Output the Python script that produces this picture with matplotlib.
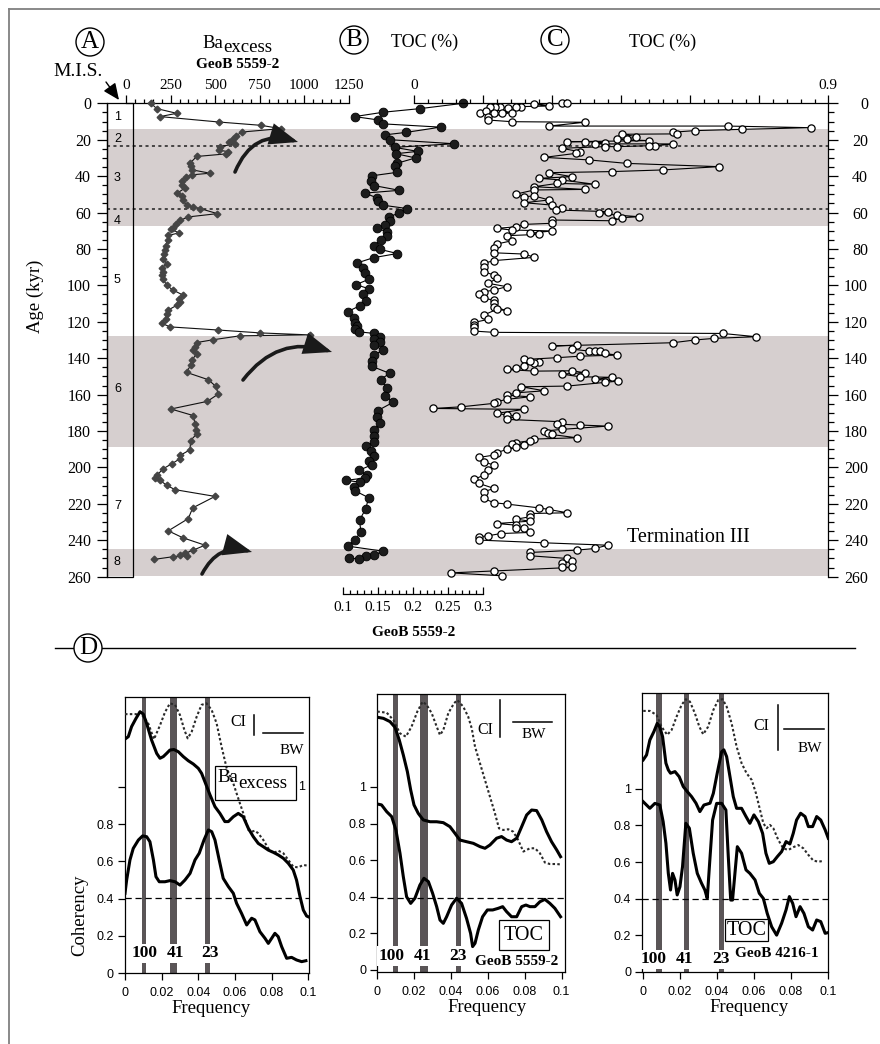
import numpy as np
import matplotlib
matplotlib.use("Agg")
import matplotlib.pyplot as plt
from matplotlib.ticker import MultipleLocator, FuncFormatter
from matplotlib.patches import Rectangle, FancyArrowPatch
from matplotlib.lines import Line2D

plt.rcParams['font.family'] = ['Liberation Serif', 'DejaVu Serif']
plt.rcParams['axes.linewidth'] = 0.9
SANS = 'Liberation Sans'

# ---------------- down-core records (age in kyr) ----------------
ba_age = [0, 2.9, 5.5, 7.3, 10.3, 12.1, 13.9, 15.8, 18.0, 19.5,
          21.0, 22.3, 23.8, 25.8, 26.5, 27.8, 29.2, 32.9, 34.7, 36.5,
          38.4, 39.3, 40.5, 42.9, 44.9, 46.5, 49.3, 51.1, 53.3, 56.0,
          56.9, 57.8, 60.6, 62.4, 64.3, 66.1, 68.5, 68.8, 71.2, 72.6,
          75.2, 78.1, 80.6, 83.0, 85.4, 88.1, 90.3, 92.7, 94.5, 96.7,
          99.9, 102.5, 105.4, 107.7, 109.1, 111.0, 113.5, 115.9, 118.2, 120.8,
          122.8, 124.5, 126.1, 127.2, 127.7, 129.9, 131.4, 133.8, 135.6, 137.8,
          141.0, 143.8, 147.8, 151.8, 155.5, 159.7, 163.7, 167.9, 171.5, 176.1,
          179.7, 181.6, 185.2, 190.3, 193.4, 195.2, 198.0, 200.7, 204.4, 205.6,
          207.1, 209.8, 212.2, 215.9, 222.2, 228.1, 234.8, 238.6, 242.7, 245.4,
          247.2, 248.2, 248.5, 249.0, 250.5]
ba_excess = [140, 172, 284, 191, 523, 757, 867, 648, 616, 598,
             575, 609, 527, 523, 570, 560, 396, 359, 362, 368,
             471, 368, 336, 312, 312, 331, 288, 312, 318, 340,
             377, 415, 512, 349, 303, 280, 265, 250, 295, 237,
             233, 222, 218, 215, 209, 228, 204, 206, 200, 209,
             228, 262, 321, 297, 303, 284, 237, 228, 222, 200,
             247, 514, 751, 1031, 639, 486, 396, 387, 377, 396,
             368, 362, 340, 461, 504, 517, 456, 252, 377, 387,
             392, 396, 362, 359, 303, 303, 256, 209, 172, 163,
             191, 228, 275, 499, 374, 349, 237, 318, 443, 377,
             331, 303, 340, 265, 157]

toc_b_age = [0, 2.9, 4.9, 7.3, 9.1, 11.3, 13.1, 16.0, 17.3, 20.0,
             22.2, 24.2, 26.4, 27.7, 30.0, 32.9, 34.7, 37.9, 39.8, 42.4,
             45.2, 47.8, 49.3, 52.0, 53.8, 56.0, 57.8, 60.2, 62.4, 64.5,
             66.6, 68.6, 70.6, 73.0, 75.2, 78.4, 80.2, 82.5, 84.8, 87.6,
             90.3, 93.0, 96.7, 99.6, 101.8, 104.9, 108.6, 111.3, 114.4, 117.7,
             120.4, 122.3, 124.1, 125.5, 126.4, 128.1, 129.5, 131.0, 132.8, 135.6,
             138.3, 141.4, 144.5, 148.3, 151.8, 156.2, 160.6, 164.2, 168.8, 172.1,
             175.7, 179.4, 182.5, 185.8, 188.3, 191.2, 193.8, 196.7, 198.5, 201.6,
             204.0, 205.8, 207.1, 208.0, 210.7, 212.9, 216.6, 222.6, 229.0, 235.4,
             240.0, 243.2, 246.0, 248.2, 248.7, 250.4, 249.6]
toc_b = [0.272, 0.211, 0.158, 0.117, 0.150, 0.158, 0.240, 0.190, 0.161, 0.168,
         0.259, 0.174, 0.207, 0.176, 0.204, 0.178, 0.174, 0.178, 0.142, 0.140,
         0.145, 0.181, 0.132, 0.149, 0.150, 0.158, 0.192, 0.181, 0.166, 0.168,
         0.160, 0.149, 0.163, 0.163, 0.154, 0.144, 0.153, 0.178, 0.144, 0.121,
         0.129, 0.132, 0.137, 0.119, 0.137, 0.129, 0.133, 0.124, 0.107, 0.116,
         0.118, 0.121, 0.118, 0.123, 0.145, 0.153, 0.145, 0.153, 0.144, 0.158,
         0.144, 0.142, 0.142, 0.167, 0.154, 0.163, 0.161, 0.172, 0.150, 0.149,
         0.153, 0.145, 0.144, 0.145, 0.133, 0.140, 0.144, 0.137, 0.142, 0.123,
         0.134, 0.132, 0.104, 0.124, 0.116, 0.118, 0.137, 0.133, 0.124, 0.126,
         0.117, 0.107, 0.158, 0.144, 0.133, 0.123, 0.109]

toc_c_age = [0.0, 0.0, 0.5, 1.5, 1.8, 2.2, 2.7, 1.8, 2.2, 1.8,
             5.1, 4.0, 5.5, 5.1, 5.1, 7.3, 9.2, 10.1, 10.4, 12.5,
             12.5, 13.4, 14.3, 15.0, 15.9, 16.8, 17.0, 18.3, 19.8, 19.8,
             20.5, 21.1, 21.1, 21.6, 22.3, 22.3, 23.4, 23.3, 23.8, 23.8,
             24.7, 26.6, 27.5, 29.7, 31.1, 33.0, 34.8, 36.6, 37.5, 38.1,
             40.3, 41.2, 42.1, 44.5, 44.0, 45.8, 47.3, 47.6, 49.8, 51.3,
             50.9, 53.1, 54.6, 55.9, 57.7, 58.6, 59.5, 60.4, 61.4, 62.3,
             62.8, 64.5, 64.1, 65.9, 66.5, 67.8, 68.7, 69.6, 70.1, 71.4,
             72.0, 72.7, 75.5, 77.3, 79.7, 82.1, 82.8, 84.6, 86.4, 87.9,
             90.1, 92.5, 94.3, 96.2, 98.9, 100.7, 102.6, 103.5, 104.9, 107.1,
             108.1, 109.9, 111.7, 113.9, 113.2, 116.3, 118.7, 120.3, 121.8, 122.7,
             125.1, 125.8, 126.4, 128.2, 129.1, 130.0, 131.5, 133.3, 132.8, 135.0,
             136.1, 136.1, 135.9, 137.4, 138.3, 138.9, 139.7, 140.7, 141.9, 142.5,
             141.6, 144.3, 145.6, 146.2, 147.1, 146.9, 148.0, 148.7, 150.2, 150.5,
             151.6, 152.6, 153.3, 155.3, 155.7, 157.9, 159.0, 160.3, 161.2, 162.6,
             163.9, 164.8, 166.7, 167.6, 168.1, 170.3, 171.2, 171.8, 173.6, 174.9,
             176.2, 176.7, 177.3, 179.1, 180.0, 180.9, 181.9, 183.7, 184.4, 185.3,
             186.4, 187.2, 187.7, 189.0, 190.1, 191.9, 193.2, 194.5, 196.9, 198.7,
             201.5, 204.2, 206.6, 208.8, 211.5, 213.4, 217.0, 219.4, 220.1, 222.2,
             223.1, 224.9, 225.3, 227.1, 228.4, 229.5, 230.8, 231.7, 233.0, 233.5,
             235.7, 236.3, 237.5, 238.1, 239.9, 241.4, 242.7, 244.5, 245.4, 246.7,
             248.5, 250.0, 251.5, 252.7, 254.6, 254.9, 256.8, 257.9, 259.5]
toc_c = [0.320, 0.333, 0.261, 0.293, 0.233, 0.222, 0.204, 0.186, 0.175, 0.164,
         0.143, 0.156, 0.173, 0.190, 0.212, 0.161, 0.161, 0.212, 0.371, 0.293,
         0.681, 0.862, 0.712, 0.610, 0.562, 0.570, 0.452, 0.483, 0.462, 0.441,
         0.510, 0.333, 0.371, 0.414, 0.393, 0.562, 0.523, 0.510, 0.441, 0.414,
         0.320, 0.360, 0.351, 0.283, 0.380, 0.462, 0.662, 0.540, 0.430, 0.293,
         0.342, 0.271, 0.320, 0.393, 0.311, 0.261, 0.371, 0.261, 0.222, 0.239,
         0.261, 0.293, 0.239, 0.299, 0.320, 0.309, 0.422, 0.402, 0.441, 0.489,
         0.452, 0.430, 0.299, 0.299, 0.239, 0.222, 0.179, 0.212, 0.299, 0.251,
         0.271, 0.201, 0.212, 0.179, 0.173, 0.173, 0.239, 0.261, 0.173, 0.151,
         0.151, 0.151, 0.173, 0.179, 0.161, 0.201, 0.173, 0.151, 0.141, 0.151,
         0.173, 0.173, 0.173, 0.201, 0.179, 0.151, 0.161, 0.130, 0.130, 0.130,
         0.130, 0.173, 0.670, 0.743, 0.652, 0.610, 0.562, 0.299, 0.353, 0.342,
         0.380, 0.393, 0.404, 0.414, 0.441, 0.360, 0.311, 0.239, 0.272, 0.261,
         0.251, 0.239, 0.222, 0.201, 0.261, 0.343, 0.371, 0.320, 0.360, 0.430,
         0.393, 0.442, 0.414, 0.333, 0.233, 0.283, 0.222, 0.201, 0.251, 0.201,
         0.179, 0.173, 0.102, 0.041, 0.239, 0.179, 0.201, 0.222, 0.201, 0.320,
         0.311, 0.360, 0.420, 0.320, 0.283, 0.291, 0.299, 0.353, 0.261, 0.251,
         0.222, 0.212, 0.239, 0.222, 0.201, 0.179, 0.173, 0.141, 0.151, 0.173,
         0.161, 0.151, 0.130, 0.141, 0.173, 0.151, 0.151, 0.173, 0.201, 0.271,
         0.293, 0.333, 0.251, 0.251, 0.222, 0.251, 0.179, 0.222, 0.222, 0.239,
         0.251, 0.188, 0.161, 0.141, 0.141, 0.283, 0.420, 0.393, 0.353, 0.251,
         0.251, 0.333, 0.343, 0.320, 0.320, 0.343, 0.173, 0.080, 0.190]

# glacial stages shaded, boundaries marked by dotted lines
glacial_top = [14.2, 128.0, 245.0]
glacial_bot = [67.5, 188.5, 259.5]
dotted_age = [23.5, 58.0]
mis_stage = ['1', '2', '3', '4', '5', '6', '7', '8']
mis_age = [7.3, 19.5, 41.0, 64.5, 97.0, 157.0, 221.0, 252.0]

# ---------------- cross-spectral results ----------------
p1_dot_f = [0, .0064, .0082, .0127, .0158, .0191, .0218, .0245, .0273, .0300,
            .0324, .0342, .0364, .0391, .0418, .0445, .0473, .0500, .0527, .0555,
            .0591, .0627, .0655, .0673, .0691, .0709, .0727, .0755, .0782, .0809,
            .0836, .0864, .0891, .0918, .0945, .0973, .1000]
p1_dot = [1.39, 1.39, 1.40, 1.34, 1.255, 1.33, 1.40, 1.448, 1.44, 1.385,
          1.305, 1.26, 1.296, 1.376, 1.44, 1.448, 1.412, 1.34, 1.215, 1.099,
          1.018, 0.911, 0.83, 0.768, 0.759, 0.764, 0.75, 0.714, 0.669, 0.643,
          0.657, 0.643, 0.607, 0.571, 0.567, 0.58, 0.576]
p1_up_f = [0, .0018, .0036, .0060, .0082, .0100, .0118, .0145, .0173, .0191,
           .0209, .0227, .0245, .0267, .0291, .0318, .0345, .0373, .0400, .0418,
           .0436, .0464, .0491, .0518, .0545, .0564, .0591, .0618, .0645, .0673,
           .0700, .0727, .0755, .0782, .0809, .0836, .0864, .0891, .0918, .0936,
           .0955, .0973, .0991, .1000]
p1_up = [1.256, 1.269, 1.323, 1.367, 1.403, 1.39, 1.34, 1.251, 1.179, 1.153,
         1.162, 1.179, 1.197, 1.2, 1.188, 1.162, 1.14, 1.122, 1.099, 1.072,
         1.027, 0.956, 0.893, 0.857, 0.813, 0.813, 0.839, 0.857, 0.839, 0.777,
         0.732, 0.696, 0.678, 0.66, 0.648, 0.634, 0.616, 0.589, 0.553, 0.499,
         0.41, 0.338, 0.306, 0.302]
p1_coh_f = [0, .0009, .0027, .0045, .0073, .0096, .0118, .0136, .0155, .0169,
            .0187, .0218, .0245, .0273, .0300, .0327, .0355, .0382, .0405, .0431,
            .0455, .0473, .0491, .0514, .0536, .0564, .0591, .0609, .0636, .0664,
            .0691, .0709, .0736, .0764, .0782, .0800, .0818, .0836, .0855, .0882,
            .0909, .0936, .0964, .0987]
p1_coh = [0.428, 0.499, 0.607, 0.669, 0.714, 0.736, 0.732, 0.705, 0.607, 0.517,
          0.49, 0.49, 0.496, 0.49, 0.472, 0.499, 0.535, 0.607, 0.643, 0.714,
          0.768, 0.759, 0.714, 0.607, 0.508, 0.464, 0.428, 0.374, 0.32, 0.258,
          0.294, 0.285, 0.222, 0.186, 0.159, 0.186, 0.213, 0.195, 0.141, 0.079,
          0.084, 0.07, 0.061, 0.066]

p2_dot_f = [0, .0051, .0087, .0123, .0155, .0186, .0217, .0246, .0268, .0295,
            .0322, .0340, .0358, .0385, .0416, .0434, .0466, .0493, .0512, .0530,
            .0557, .0584, .0611, .0638, .0660, .0683, .0710, .0737, .0764, .0792,
            .0828, .0855, .0882, .0909, .0936, .0973, .0991]
p2_dot = [1.412, 1.406, 1.366, 1.293, 1.275, 1.33, 1.412, 1.466, 1.448, 1.403,
          1.33, 1.284, 1.311, 1.403, 1.457, 1.475, 1.439, 1.384, 1.321, 1.22,
          1.129, 1.038, 0.947, 0.856, 0.774, 0.765, 0.769, 0.756, 0.71, 0.647,
          0.665, 0.665, 0.638, 0.587, 0.579, 0.579, 0.577]
p2_up_f = [0, .0033, .0069, .0096, .0119, .0141, .0163, .0181, .0199, .0222,
           .0249, .0286, .0322, .0358, .0394, .0421, .0448, .0484, .0521, .0557,
           .0584, .0611, .0647, .0674, .0701, .0728, .0756, .0783, .0810, .0837,
           .0864, .0892, .0918, .0945, .0973, .0994]
p2_up = [1.381, 1.375, 1.357, 1.326, 1.257, 1.175, 1.084, 0.984, 0.902, 0.856,
         0.82, 0.81, 0.81, 0.805, 0.783, 0.747, 0.71, 0.701, 0.692, 0.674,
         0.665, 0.683, 0.72, 0.729, 0.71, 0.701, 0.72, 0.783, 0.847, 0.874,
         0.871, 0.82, 0.756, 0.701, 0.656, 0.619]
p2_coh_f = [0, .0023, .0051, .0078, .0101, .0123, .0141, .0159, .0181, .0204,
            .0231, .0253, .0277, .0300, .0322, .0340, .0358, .0376, .0403, .0430,
            .0457, .0484, .0506, .0517, .0530, .0548, .0571, .0597, .0626, .0656,
            .0680, .0701, .0728, .0756, .0783, .0806, .0828, .0855, .0882, .0909,
            .0936, .0963, .0994]
p2_coh = [0.907, 0.902, 0.865, 0.838, 0.765, 0.638, 0.51, 0.4, 0.364, 0.392,
          0.464, 0.501, 0.483, 0.419, 0.346, 0.273, 0.255, 0.291, 0.355, 0.392,
          0.364, 0.282, 0.2, 0.128, 0.146, 0.219, 0.291, 0.328, 0.328, 0.337,
          0.346, 0.319, 0.291, 0.291, 0.346, 0.355, 0.346, 0.346, 0.373, 0.386,
          0.364, 0.337, 0.291]

p3_dot_f = [0, .0036, .0072, .0099, .0130, .0154, .0181, .0208, .0231, .0253,
            .0280, .0304, .0325, .0352, .0380, .0407, .0430, .0452, .0479, .0506,
            .0533, .0560, .0588, .0611, .0633, .0651, .0669, .0687, .0705, .0732,
            .0759, .0786, .0813, .0840, .0868, .0895, .0922, .0949, .0976]
p3_dot = [1.427, 1.427, 1.405, 1.341, 1.296, 1.323, 1.396, 1.46, 1.491, 1.478,
          1.414, 1.341, 1.299, 1.341, 1.432, 1.487, 1.491, 1.451, 1.359, 1.232,
          1.141, 1.086, 1.049, 0.976, 0.885, 0.812, 0.785, 0.803, 0.785, 0.721,
          0.675, 0.666, 0.681, 0.693, 0.675, 0.639, 0.608, 0.602, 0.606]
p3_up_f = [0, .0018, .0036, .0058, .0076, .0090, .0105, .0123, .0136, .0148,
           .0172, .0195, .0217, .0239, .0262, .0286, .0307, .0329, .0362, .0380,
           .0401, .0425, .0437, .0452, .0470, .0488, .0506, .0533, .0557, .0578,
           .0600, .0624, .0647, .0665, .0683, .0705, .0727, .0750, .0774, .0795,
           .0813, .0831, .0853, .0877, .0895, .0918, .0940, .0962, .0986, .1003]
p3_up = [1.159, 1.186, 1.268, 1.314, 1.359, 1.338, 1.286, 1.141, 1.104, 1.086,
         1.095, 1.067, 1.013, 0.985, 0.958, 0.922, 0.876, 0.912, 0.922, 0.976,
         1.086, 1.204, 1.214, 1.177, 1.068, 0.958, 0.894, 0.894, 0.849, 0.812,
         0.858, 0.821, 0.757, 0.648, 0.593, 0.602, 0.63, 0.657, 0.712, 0.699,
         0.757, 0.83, 0.867, 0.849, 0.794, 0.794, 0.849, 0.83, 0.776, 0.73]
p3_coh_f = [0, .0009, .0036, .0063, .0090, .0108, .0123, .0136, .0148, .0159,
            .0172, .0184, .0199, .0213, .0231, .0250, .0271, .0293, .0316, .0334,
            .0347, .0361, .0376, .0398, .0425, .0448, .0461, .0474, .0484, .0497,
            .0510, .0533, .0557, .0578, .0606, .0629, .0651, .0672, .0696, .0723,
            .0750, .0774, .0792, .0810, .0828, .0850, .0871, .0895, .0918, .0940,
            .0962, .0986, .0998]
p3_coh = [0.93, 0.921, 0.894, 0.921, 0.912, 0.821, 0.703, 0.538, 0.447, 0.538,
          0.502, 0.42, 0.465, 0.575, 0.812, 0.785, 0.648, 0.538, 0.484, 0.447,
          0.401, 0.611, 0.83, 0.921, 0.921, 0.885, 0.63, 0.392, 0.392, 0.538,
          0.684, 0.648, 0.557, 0.538, 0.502, 0.429, 0.401, 0.319, 0.246, 0.2,
          0.265, 0.338, 0.411, 0.374, 0.301, 0.356, 0.319, 0.246, 0.228, 0.283,
          0.274, 0.21, 0.213]

coh_level = [0.404, 0.395, 0.396]          # 80 % non-zero coherency
orbit_labels = ['100', '41', '23']
orbit_freq = [[0.0105, 0.0266, 0.0451], [0.0098, 0.0252, 0.0439], [0.0085, 0.0233, 0.0423]]
orbit_width = [[0.0024, 0.0038, 0.0029], [0.0025, 0.0043, 0.0027], [0.0031, 0.0027, 0.0027]]

# ---------------- layout helpers (pixels, origin top-left) ----------------
W, H = 880, 1044
fig = plt.figure(figsize=(W / 100, H / 100), dpi=100)


def fbox(x0, y0, x1, y1):
    return [x0 / W, 1 - y1 / H, (x1 - x0) / W, (y1 - y0) / H]


def fpt(x, y):
    return (x / W, 1 - y / H)


TOP0, TOP1 = 103.3, 576.7
BAND = '#d6cfcf'
BAR = '#5a5557'

# outer frame
fig.add_artist(Line2D([8.5 / W, 8.5 / W], [0, 1 - 8.5 / H], color='#808080', lw=1.3))
fig.add_artist(Line2D([8.5 / W, 1], [1 - 8.5 / H, 1 - 8.5 / H], color='#808080', lw=1.3))

# ---- base axes: age scale, shading, M.I.S. column ----
ax = fig.add_axes(fbox(107, TOP0, 828.3, TOP1))
ax.set_xlim(0, 1)
ax.set_ylim(260, 0)
for s in ('top', 'bottom', 'right'):
    ax.spines[s].set_visible(False)
ax.set_xticks([])
ax.yaxis.set_major_locator(MultipleLocator(20))
ax.yaxis.set_minor_locator(MultipleLocator(5))
ax.tick_params(axis='y', which='major', direction='out', length=7.5, width=0.9, pad=4, labelsize=11.5)
ax.tick_params(axis='y', which='minor', direction='out', length=3.8, width=0.9)
for a, b in zip(glacial_top, glacial_bot):
    ax.axhspan(a, b, color=BAND, lw=0, zorder=0)
for d in dotted_age:
    ax.axhline(d, color='#202020', lw=1.1, ls=(0, (2, 2.2)), zorder=1)
mis_w = 26 / 721.3
ax.add_patch(Rectangle((0, 0), mis_w, 260, transform=ax.get_yaxis_transform(),
                       fill=False, lw=0.9, zorder=3, clip_on=False))
for s, a in zip(mis_stage, mis_age):
    ax.text(mis_w * 0.4, a, s, transform=ax.get_yaxis_transform(), ha='center', va='center',
            fontsize=9, family=SANS, zorder=4)

# ---- Ba excess ----
axb = fig.add_axes(fbox(126, TOP0, 349, TOP1), facecolor='none')
axb.set_xlim(0, 1250)
axb.set_ylim(260, 0)
for s in ('left', 'right', 'bottom'):
    axb.spines[s].set_visible(False)
axb.set_yticks([])
axb.xaxis.tick_top()
axb.xaxis.set_major_locator(MultipleLocator(250))
axb.xaxis.set_minor_locator(MultipleLocator(50))
axb.tick_params(axis='x', which='major', direction='out', length=5.8, width=0.9, pad=2, labelsize=11)
axb.tick_params(axis='x', which='minor', direction='out', length=3, width=0.9)
axb.plot(ba_excess, ba_age, color='#111111', lw=0.8, marker='D', ms=3.4,
         mfc='#454545', mec='#454545', clip_on=False, zorder=3)

# ---- TOC, GeoB 5559-2 (filled circles, lower scale) ----
axt = fig.add_axes(fbox(342.7, TOP0, 482.7, TOP1), facecolor='none')
axt.set_xlim(0.1, 0.3)
axt.set_ylim(260, 0)
for s in ('left', 'right', 'top'):
    axt.spines[s].set_visible(False)
axt.spines['bottom'].set_position(('outward', 12.8))
axt.set_yticks([])
axt.xaxis.set_major_locator(MultipleLocator(0.05))
axt.xaxis.set_minor_locator(MultipleLocator(0.01))
axt.xaxis.set_major_formatter(FuncFormatter(lambda v, p: f'{v:g}'))
axt.tick_params(axis='x', which='major', direction='in', length=5, width=0.9, pad=5, labelsize=11)
axt.tick_params(axis='x', which='minor', direction='in', length=2.8, width=0.9)
axt.plot(toc_b, toc_b_age, color='k', lw=0.8, marker='o', ms=6.3,
         mfc='#1c1c1c', mec='k', mew=0.6, clip_on=False, zorder=3)

# ---- TOC (open circles, upper scale) + right age axis ----
axc = fig.add_axes(fbox(414.3, TOP0, 828.3, TOP1), facecolor='none')
axc.set_xlim(0, 0.9)
axc.set_ylim(260, 0)
axc.spines['left'].set_visible(False)
axc.spines['bottom'].set_visible(False)
axc.xaxis.tick_top()
axc.xaxis.set_major_locator(MultipleLocator(0.15))
axc.xaxis.set_minor_locator(MultipleLocator(0.03))
axc.xaxis.set_major_formatter(FuncFormatter(lambda v, p: f'{v:g}' if v < 0.01 or v > 0.89 else ''))
axc.tick_params(axis='x', which='major', direction='out', length=5.8, width=0.9, pad=2, labelsize=11)
axc.tick_params(axis='x', which='minor', direction='out', length=3, width=0.9)
axc.yaxis.tick_right()
axc.set_yticks(np.arange(0, 261, 20))
axc.yaxis.set_minor_locator(MultipleLocator(5))
axc.tick_params(axis='y', which='major', direction='out', length=7.5, width=0.9, pad=21, labelsize=11.5)
axc.tick_params(axis='y', which='minor', direction='out', length=4, width=0.9)
for t in axc.yaxis.get_major_ticks():
    t.label2.set_horizontalalignment('right')
axc.plot(toc_c, toc_c_age, color='k', lw=0.8, marker='o', ms=5.2,
         mfc='white', mec='k', mew=0.9, clip_on=False, zorder=3)

# ---- headings ----
circ = dict(boxstyle='circle,pad=0.12', fc='white', ec='k', lw=1.0)
for letter, (x, y) in zip('ABC', [(90, 42), (354, 40), (555, 40)]):
    fig.text(*fpt(x, y), letter, ha='center', va='center', fontsize=18, bbox=circ)
fig.text(*fpt(223, 47.7), 'Ba', ha='right', va='baseline', fontsize=13.5)
fig.text(*fpt(223, 51.5), 'excess', ha='left', va='baseline', fontsize=13.5)
fig.text(*fpt(238, 65), 'GeoB 5559-2', ha='center', va='center', fontsize=11, fontweight='bold')
fig.text(*fpt(425, 42), 'TOC (%)', ha='center', va='center', fontsize=13)
fig.text(*fpt(663, 42), 'TOC (%)', ha='center', va='center', fontsize=13)
fig.text(*fpt(78, 71), 'M.I.S.', ha='center', va='center', fontsize=14)
fig.text(*fpt(414, 633), 'GeoB 5559-2', ha='center', va='center', fontsize=11, fontweight='bold')
fig.text(*fpt(35, 296), 'Age (kyr)', ha='center', va='center', fontsize=13.5, rotation=90)
fig.text(*fpt(688, 537), 'Termination III', ha='center', va='center', fontsize=14.5)
fig.add_artist(FancyArrowPatch(fpt(106, 82), fpt(119, 100), transform=fig.transFigure,
                               arrowstyle='-|>,head_length=0.5,head_width=0.22',
                               mutation_scale=20, lw=1.0, color='k', shrinkA=0, shrinkB=0))

# curved arrows marking the terminations
for (p0, p1, rad) in [((235, 172), (298, 142), -0.45),
                      ((243, 380), (332, 352), -0.35),
                      ((202, 574), (252, 552), -0.4)]:
    fig.add_artist(FancyArrowPatch(fpt(*p0), fpt(*p1), transform=fig.transFigure,
                                   connectionstyle=f'arc3,rad={rad}',
                                   arrowstyle='-|>,head_length=0.78,head_width=0.3',
                                   mutation_scale=20, lw=2.6, color='#1a1a1a',
                                   shrinkA=0, shrinkB=0, joinstyle='miter'))

# section D divider
fig.add_artist(Line2D([55 / W, 855 / W], [1 - 648 / H, 1 - 648 / H], color='k', lw=1.0))
fig.text(*fpt(88, 648), 'D', ha='center', va='center', fontsize=18, bbox=circ)

# ---------------- coherency panels ----------------
panel_boxes = [(125, 697, 309, 973), (377.3, 694, 565, 972), (642.3, 693, 828.3, 971.7)]
panel_xlim = [(0, 0.1004), (0, 0.1018), (-0.0005, 0.1003)]
panel_ylim = [(0, 1.482), (-0.011, 1.508), (0, 1.525)]
dots = [(p1_dot_f, p1_dot), (p2_dot_f, p2_dot), (p3_dot_f, p3_dot)]
ups = [(p1_up_f, p1_up), (p2_up_f, p2_up), (p3_up_f, p3_up)]
cohs = [(p1_coh_f, p1_coh), (p2_coh_f, p2_coh), (p3_coh_f, p3_coh)]
orbit_lbl_x = [[0.0109, 0.0273, 0.0464], [0.0078, 0.0246, 0.0437], [0.0058, 0.0226, 0.0423]]
orbit_lbl_y = [0.106, 0.076, 0.068]
ci_text = [(0.0618, 1.349), (0.0584, 1.311), (0.0642, 1.345)]
ci_bar = [(0.0704, 1.278, 1.385), (0.0665, 1.275, 1.475), (0.0728, 1.214, 1.46)]
bw_bar = [(0.0755, 0.0973, 1.290), (0.0738, 0.0945, 1.353), (0.0765, 0.0982, 1.327)]
bw_text = [(0.0909, 1.197), (0.0846, 1.284), (0.0904, 1.224)]
xlabel_pos = [(0.47, -0.097), (0.586, -0.097), (0.575, -0.097)]

coh_axes = []
for i in range(3):
    a = fig.add_axes(fbox(*panel_boxes[i]))
    a.set_xlim(*panel_xlim[i])
    a.set_ylim(*panel_ylim[i])
    for c, w in zip(orbit_freq[i], orbit_width[i]):
        a.axvspan(c - w / 2, c + w / 2, color=BAR, lw=0, zorder=1)
    a.axhline(coh_level[i], color='k', lw=0.9, ls=(0, (5, 3)), zorder=2)
    a.plot(*dots[i], color='#2a2a2a', lw=1.5, ls=(0, (1.2, 1.1)), zorder=3)
    a.plot(*ups[i], color='k', lw=2.2, zorder=4)
    a.plot(*cohs[i], color='k', lw=2.2, zorder=4)
    for fx, t in zip(orbit_lbl_x[i], orbit_labels):
        a.text(fx, orbit_lbl_y[i], t, ha='center', va='center', fontsize=12.5,
               fontweight='bold', zorder=5, bbox=dict(fc='white', ec='none', pad=1.2))
    a.text(*ci_text[i], 'CI', ha='center', va='center', fontsize=11.5, zorder=5)
    x, y0, y1 = ci_bar[i]
    a.plot([x, x], [y0, y1], color='k', lw=1.1, zorder=5)
    x0, x1, y = bw_bar[i]
    a.plot([x0, x1], [y, y], color='k', lw=1.1, zorder=5)
    a.text(*bw_text[i], 'BW', ha='center', va='center', fontsize=11, zorder=5)
    a.set_xticks(np.arange(0, 0.101, 0.02))
    a.set_yticks(np.arange(0, 1.01, 0.2))
    a.xaxis.set_major_formatter(FuncFormatter(lambda v, p: f'{v:g}' if abs(v) > 1e-9 else '0'))
    if i == 0:
        a.yaxis.set_major_formatter(FuncFormatter(lambda v, p: '' if v > 0.99 else (f'{v:g}' if v > 1e-9 else '0')))
    else:
        a.yaxis.set_major_formatter(FuncFormatter(lambda v, p: f'{v:g}' if v > 1e-9 else '0'))
    a.tick_params(direction='out', length=5, width=0.9, labelsize=9, labelfontfamily=SANS)
    a.tick_params(axis='x', pad=5)
    a.tick_params(axis='y', pad=3)
    a.set_xlabel('Frequency', fontsize=13.5)
    a.xaxis.set_label_coords(*xlabel_pos[i])
    coh_axes.append(a)

coh_axes[0].set_ylabel('Coherency', fontsize=13.5)
coh_axes[0].yaxis.set_label_coords(-0.2, 0.21)

# series names inside the panels
fig.text(*fpt(238, 781.7), 'Ba', ha='right', va='baseline', fontsize=13.5)
fig.text(*fpt(238, 788), 'excess', ha='left', va='baseline', fontsize=13.5)
fig.add_artist(Rectangle(fpt(215, 800), 81 / W, 34 / H, transform=fig.transFigure,
                         fill=False, lw=0.9, ec='k'))
fig.text(*fpt(301.7, 787), '1', ha='center', va='center', fontsize=9, family=SANS)
coh_axes[1].text(0.0795, 0.191, 'TOC', ha='center', va='center', fontsize=14.5, zorder=6,
                 bbox=dict(boxstyle='square,pad=0.25', fc='white', ec='k', lw=0.9))
coh_axes[1].text(0.0756, 0.0455, 'GeoB 5559-2', ha='center', va='center', fontsize=11,
                 fontweight='bold', zorder=6)
coh_axes[2].text(0.056, 0.228, 'TOC', ha='center', va='center', fontsize=14.5, zorder=6,
                 bbox=dict(boxstyle='square,pad=0.06', fc='white', ec='k', lw=0.9))
coh_axes[2].text(0.0723, 0.100, 'GeoB 4216-1', ha='center', va='center', fontsize=11,
                 fontweight='bold', zorder=6)

fig.savefig('out.png', dpi=100)
